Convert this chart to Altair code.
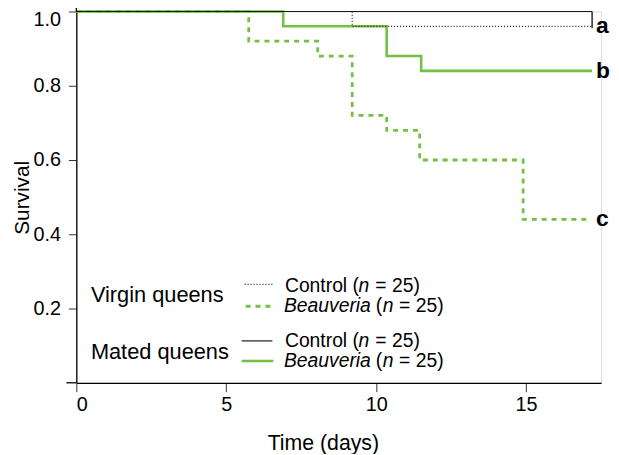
import altair as alt
import pandas as pd

# ---- data (time in days, survival proportion) ----
vb_time = [0, 5.75, 8.05, 9.2, 10.35, 11.45, 14.9, 17.15]   # virgin queens, Beauveria
vb_surv = [1.0, 0.92, 0.88, 0.72, 0.68, 0.60, 0.44, 0.44]
mb_time = [0, 6.9, 10.35, 11.5, 17.2]                      # mated queens, Beauveria
mb_surv = [1.0, 0.96, 0.88, 0.84, 0.84]
vc_time = [0, 9.2, 17.2]                                   # virgin queens, control
vc_surv = [1.0, 0.96, 0.96]
mc_time = [0, 17.2]                                        # mated queens, control
mc_surv = [1.0, 1.0]
censor_time = [17.2]
censor_top = [1.0]
censor_bottom = [0.955]

end_labels = ["a", "b", "c"]
end_label_time = [17.2, 17.2, 17.2]
end_label_surv = [0.96, 0.84, 0.44]

x_ticks = [0, 5, 10, 15]
y_ticks = [0.2, 0.4, 0.6, 0.8, 1.0]

group_labels = ["Virgin queens", "Mated queens"]
ctrl_parts = ["Control (", "n", "= 25)"]
beau_parts = ["Beauveria", "(", "n", "= 25)"]

# ---- styling ----
FONT = "Liberation Sans"
GREEN = "#74c043"
BLACK = "#1a1a1a"
W, H = 530, 375

x_scale = alt.Scale(domain=[0, 17.5], nice=False, zero=False)
y_scale = alt.Scale(domain=[0, 1], nice=False)

x_axis = alt.Axis(values=x_ticks, format="d", title="Time (days)", grid=False,
                  labelFontSize=20, labelFont=FONT, labelColor="black", labelPadding=3,
                  titleFontSize=21.5, titleFont=FONT, titleFontWeight="normal", titleColor="black",
                  titleX=249, titleY=67, titleBaseline="alphabetic", titleAlign="center",
                  tickSize=9, tickColor="#333", domainColor="black", domainWidth=1.3)
y_axis = alt.Axis(values=y_ticks, format=".1f", title="Survival", grid=False,
                  labelFontSize=20, labelFont=FONT, labelColor="black", labelPadding=8,
                  labelFlush=True, labelFlushOffset=2,
                  titleFontSize=21, titleFont=FONT, titleFontWeight="normal", titleColor="black",
                  titleX=-48, titleY=187.7, titleAngle=270, titleBaseline="alphabetic",
                  titleAlign="center",
                  tickSize=8, tickColor="#333", domainColor="black", domainWidth=1.3)


def series_line(times, survs, color, width, dash=None):
    df = pd.DataFrame({"time": times, "survival": survs})
    kw = dict(interpolate="step-after", color=color, strokeWidth=width, strokeCap="butt")
    if dash:
        kw["strokeDash"] = dash
    return alt.Chart(df).mark_line(**kw).encode(
        x=alt.X("time:Q", scale=x_scale, axis=x_axis),
        y=alt.Y("survival:Q", scale=y_scale, axis=y_axis),
    )


layers = [
    series_line(mb_time, mb_surv, GREEN, 2.6),
    series_line(vb_time, vb_surv, GREEN, 2.8, [5, 5]),
    series_line(mc_time, mc_surv, BLACK, 1.2),
    series_line(vc_time, vc_surv, BLACK, 1.2, [1, 2]),
]

censor_df = pd.DataFrame({"time": censor_time, "top": censor_top, "bottom": censor_bottom})
layers.append(alt.Chart(censor_df).mark_rule(color=BLACK, strokeWidth=1.4).encode(
    x=alt.X("time:Q", scale=x_scale, axis=x_axis),
    y=alt.Y("top:Q", scale=y_scale, axis=y_axis),
    y2="bottom:Q",
))

lab_df = pd.DataFrame({"label": end_labels, "time": end_label_time, "survival": end_label_surv})
layers.append(alt.Chart(lab_df).mark_text(align="left", baseline="middle", dx=4, dy=0,
                                          fontSize=23, fontWeight="bold", font=FONT,
                                          color="black").encode(
    x=alt.X("time:Q", scale=x_scale, axis=x_axis),
    y=alt.Y("survival:Q", scale=y_scale, axis=y_axis),
    text="label:N",
))

one = pd.DataFrame({"k": [0]})

# axis line extensions (x axis runs a little left of the y axis, y axis a little above 1.0)
layers.append(alt.Chart(one).mark_rule(color="black", strokeWidth=1.3).encode(
    x=alt.value(-10), x2=alt.value(0), y=alt.value(H)))
layers.append(alt.Chart(one).mark_rule(color="black", strokeWidth=1.3).encode(
    x=alt.value(0), y=alt.value(-7), y2=alt.value(0)))


def legend_text(txt, x, y, size, italic=False):
    df = pd.DataFrame({"label": [txt]})
    return alt.Chart(df).mark_text(align="left", baseline="alphabetic", fontSize=size,
                                   font=FONT, fontStyle="italic" if italic else "normal",
                                   color="black").encode(
        text="label:N", x=alt.value(x), y=alt.value(y))


def legend_line(x1, x2, y, color, width, dash=None):
    kw = dict(color=color, strokeWidth=width, strokeCap="butt")
    if dash:
        kw["strokeDash"] = dash
    return alt.Chart(one).mark_rule(**kw).encode(x=alt.value(x1), x2=alt.value(x2), y=alt.value(y))


# group names
layers.append(legend_text(group_labels[0], 14.7, 293.7, 22))
layers.append(legend_text(group_labels[1], 14.7, 350.7, 22))

# legend keys
layers.append(legend_line(170, 200, 275.7, BLACK, 1.2, [1, 2]))
layers.append(legend_line(171, 198, 297.7, GREEN, 2.8, [5, 5]))
layers.append(legend_line(167, 198, 332.7, BLACK, 1.2))
layers.append(legend_line(167, 199, 353, GREEN, 2.6))

# legend entries
FS = 19.5
for yb in (283.7, 338.7):
    layers.append(legend_text(ctrl_parts[0], 210.7, yb, FS))
    layers.append(legend_text(ctrl_parts[1], 285, yb, FS, italic=True))
    layers.append(legend_text(ctrl_parts[2], 302, yb, FS))
for yb in (303.7, 358.7):
    layers.append(legend_text(beau_parts[0], 209.7, yb, FS, italic=True))
    layers.append(legend_text(beau_parts[1], 302.5, yb, FS))
    layers.append(legend_text(beau_parts[2], 309.5, yb, FS, italic=True))
    layers.append(legend_text(beau_parts[3], 326, yb, FS))

chart = alt.layer(*layers).properties(
    width=W, height=H,
    autosize=alt.AutoSizeParams(type="none"),
    padding={"left": 69, "top": 1.3, "right": 10, "bottom": 70},
).configure_view(stroke=None).configure(font=FONT, background="white")

chart.save("out.html", embed_options={"renderer": "svg", "actions": False})
